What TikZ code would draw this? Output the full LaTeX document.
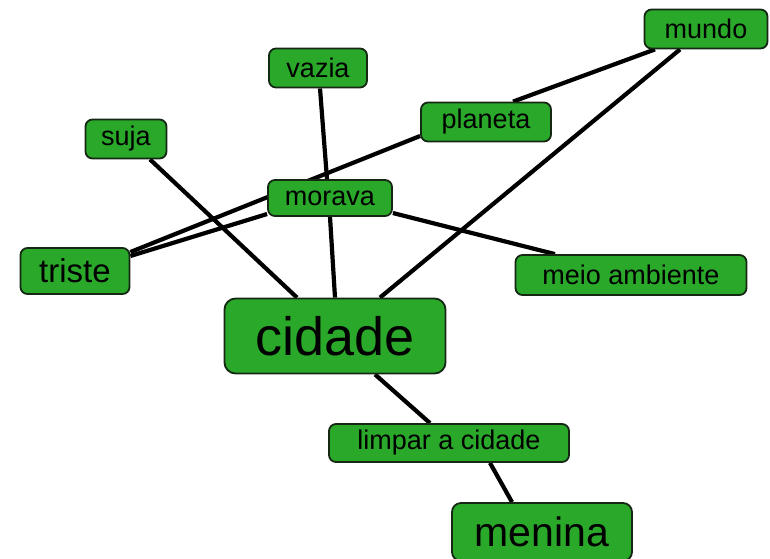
\documentclass[tikz,border=0pt]{standalone}
\usepackage{fontspec}
\setmainfont{Liberation Sans}
\usepackage{tikz}
\usetikzlibrary{positioning,backgrounds}
\definecolor{leaf}{RGB}{42,168,42}
\definecolor{rim}{RGB}{20,40,20}

\tikzset{
  word/.style={draw=rim,line width=1.8pt,fill=leaf,rounded corners=7pt,inner sep=0pt,
    text=black,font=\fontsize{27}{31}\selectfont},
  link/.style={line width=4.2pt,black}
}

\begin{document}
\begin{tikzpicture}[x=1pt,y=-1pt]
\clip (0,0) rectangle (770,558);
% words of the map
\node(vazia)[word,minimum width=98pt,minimum height=39pt] at (318,68){vazia};
\node(suja)[word,minimum width=81pt,minimum height=39pt] at (126,139){suja};
\node(mundo)[word,minimum width=123pt,minimum height=39pt] at (706,29){mundo};
\node(planeta)[word,minimum width=130pt,minimum height=39pt] at (486,122){planeta};
\node(morava)[word,minimum width=124pt,minimum height=36pt] at (330,198){morava};
\node(triste)[word,minimum width=109pt,minimum height=46pt,font=\fontsize{33}{37}\selectfont] at (75,271){triste};
\node(meio)[word,minimum width=231pt,minimum height=40pt] at (631,275){meio ambiente};
\node(cidade)[word,minimum width=221pt,minimum height=75pt,rounded corners=11pt,font=\fontsize{54}{60}\selectfont] at (335,336){cidade};
\node(limpar)[word,minimum width=240pt,minimum height=38pt] at (449,443){limpar a cidade};
\node(menina)[word,minimum width=180pt,minimum height=58pt,rounded corners=9pt,font=\fontsize{41}{46}\selectfont] at (542,532){menina};

% links, kept behind the boxes
\begin{scope}[on background layer]
\draw[link] ([xshift=2pt]vazia.south) -- ([xshift=-3pt]morava.north);
\draw[link] (morava.south) -- (cidade.north);
\draw[link] ([xshift=24pt]suja.south) -- ([xshift=-38pt]cidade.north);
\draw[link] ([yshift=-14pt]planeta.west) -- ([yshift=19pt]triste.east);
\draw[link] ([yshift=-16pt]morava.west) -- ([yshift=15pt]triste.east);
\draw[link] ([xshift=-51pt]mundo.south) -- ([xshift=27pt]planeta.north);
\draw[link] ([xshift=-26pt]mundo.south) -- ([xshift=45pt]cidade.north);
\draw[link] ([yshift=-15pt]morava.east) -- ([xshift=-76pt]meio.north);
\draw[link] ([xshift=40pt]cidade.south) -- ([xshift=-19pt]limpar.north);
\draw[link] ([xshift=41pt]limpar.south) -- ([xshift=-30pt]menina.north);
\end{scope}
\end{tikzpicture}
\end{document}
